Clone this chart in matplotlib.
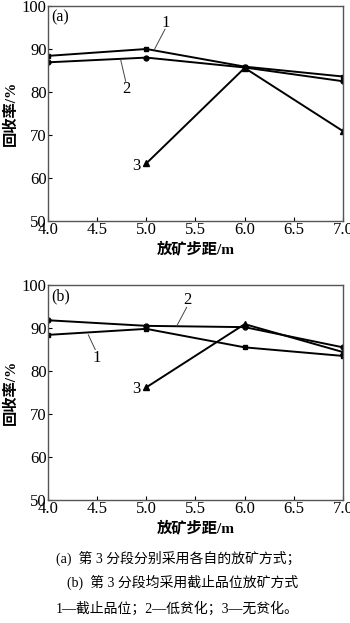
import matplotlib.pyplot as plt

plt.rcParams['font.family'] = ['Liberation Serif', 'Noto Sans CJK SC']

steps = [4.0, 5.0, 6.0, 7.0]
steps3 = [5.0, 6.0, 7.0]

# panel (a)
a_cutoff = [88.4, 90.0, 85.9, 83.6]
a_low = [86.9, 88.0, 85.7, 82.5]
a_none = [63.4, 85.6, 70.9]

# panel (b)
b_cutoff = [88.4, 89.8, 85.5, 83.5]
b_low = [91.8, 90.5, 90.2, 85.5]
b_none = [76.2, 90.9, 84.4]

xticks = [4.0, 4.5, 5.0, 5.5, 6.0, 6.5, 7.0]
yticks = [50, 60, 70, 80, 90, 100]

fig = plt.figure(figsize=(3.5, 6.23), dpi=100)
W, H = 350, 623
ax_a = fig.add_axes([48 / W, 1 - 221 / H, 295 / W, 215 / H])
ax_b = fig.add_axes([48 / W, 1 - 500 / H, 295 / W, 215 / H])


def draw(ax, cut, low, none, tag):
    ax.plot(steps, cut, color='black', lw=1.4, marker='s', ms=3.5)
    ax.plot(steps, low, color='black', lw=1.4, marker='o', ms=3.5)
    ax.plot(steps3, none, color='black', lw=1.4, marker='^', ms=4)
    ax.set_xlim(4.0, 7.0)
    ax.set_ylim(50, 100)
    ax.set_xticks(xticks)
    ax.set_xticklabels([f'{t:.1f}' for t in xticks])
    ax.set_yticks(yticks)
    ax.tick_params(direction='in', length=3, width=0.8, labelsize=12,
                   colors='black', pad=1)
    for s in ax.spines.values():
        s.set_color('#555555')
        s.set_linewidth(1.0)
    ax.set_xlabel('放矿步距/m', fontsize=11, labelpad=2, fontweight='bold')
    ax.set_ylabel('回收率/%', fontsize=11, labelpad=3, fontweight='bold')
    ax.text(4.03, 97.3, tag, fontsize=11.5, ha='left', va='center')


draw(ax_a, a_cutoff, a_low, a_none, '(a)')
draw(ax_b, b_cutoff, b_low, b_none, '(b)')

# callouts (a)
ax_a.plot([5.08, 5.19], [89.8, 94.6], color='#444444', lw=0.7)
ax_a.text(5.2, 96.0, '1', fontsize=12, ha='center', va='center')
ax_a.plot([4.74, 4.79], [87.4, 82.5], color='#444444', lw=0.7)
ax_a.text(4.8, 80.6, '2', fontsize=12, ha='center', va='center')
ax_a.text(4.9, 62.8, '3', fontsize=12, ha='center', va='center')

# callouts (b)
ax_b.plot([5.31, 5.41], [90.5, 94.8], color='#444444', lw=0.7)
ax_b.text(5.42, 96.4, '2', fontsize=12, ha='center', va='center')
ax_b.plot([4.41, 4.48], [88.4, 85.0], color='#444444', lw=0.7)
ax_b.text(4.5, 83.0, '1', fontsize=12, ha='center', va='center')
ax_b.text(4.9, 75.8, '3', fontsize=12, ha='center', va='center')

caption = ['(a)  第 3 分段分别采用各自的放矿方式；',
           '(b)  第 3 分段均采用截止品位放矿方式',
           '1—截止品位；2—低贫化；3—无贫化。']
cap_y = [558, 582, 609]
cap_x = [178, 183, 177]
for t, y, x in zip(caption, cap_y, cap_x):
    fig.text(x / W, 1 - y / H, t, fontsize=10, ha='center', va='center')

fig.savefig('out.png', dpi=100, facecolor='white')
